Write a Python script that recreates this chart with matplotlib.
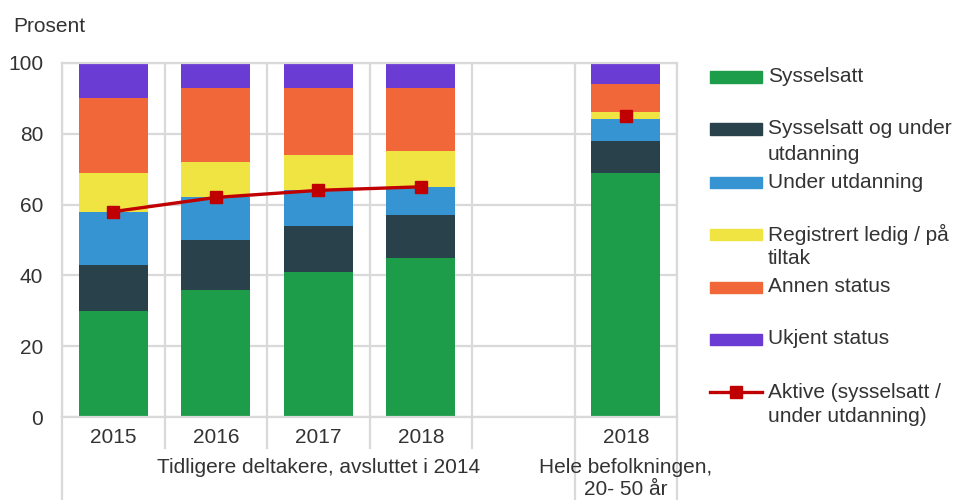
import matplotlib
matplotlib.use('Agg')
import matplotlib.pyplot as plt
import matplotlib.transforms as mtransforms
from matplotlib.patches import Rectangle
from matplotlib.lines import Line2D
import numpy as np

plt.rcParams['font.family'] = ['Liberation Sans', 'DejaVu Sans']

# ---- data ----
categories = ['2015', '2016', '2017', '2018', '', '2018']
sysselsatt = [30, 36, 41, 45, np.nan, 69]
sysselsatt_utd = [13, 14, 13, 12, np.nan, 9]
under_utd = [15, 12, 10, 8, np.nan, 6]
reg_ledig = [11, 10, 10, 10, np.nan, 2]
annen = [21, 21, 19, 18, np.nan, 8]
ukjent = [10, 7, 7, 7, np.nan, 6]
aktive = [58, 62, 64, 65, np.nan, 85]

series_labels = ['Sysselsatt', 'Sysselsatt og under\nutdanning', 'Under utdanning',
                 'Registrert ledig / på\ntiltak', 'Annen status', 'Ukjent status']
line_label = 'Aktive (sysselsatt /\nunder utdanning)'
group1_label = 'Tidligere deltakere, avsluttet i 2014'
group2_label = ['Hele befolkningen,', '20- 50 år']
yticks = [0, 20, 40, 60, 80, 100]

colors = ['#1D9C4A', '#29414A', '#3594D1', '#F0E442', '#F26739', '#6A3CD4']
red = '#C00000'
grid_c = '#D9D9D9'
text_c = '#333333'
FS = 15

W, H = 957, 500
fig = plt.figure(figsize=(W / 100, H / 100), dpi=100)
x0, x1, y0, y1 = 62, 677, 417.3, 62.7
ax = fig.add_axes([x0 / W, 1 - y0 / H, (x1 - x0) / W, (y0 - y1) / H])

x = np.arange(len(categories))
bottom = np.zeros(len(categories))
for vals, col in zip([sysselsatt, sysselsatt_utd, under_utd, reg_ledig, annen, ukjent], colors):
    v = np.array(vals, dtype=float)
    ax.bar(x, v, bottom=bottom, width=0.67, color=col, zorder=2, linewidth=0)
    bottom = bottom + v

ax.plot(x, aktive, color=red, lw=2.4, marker='s', markersize=8, zorder=4)

ax.set_xlim(-0.5, len(categories) - 0.5)
ax.set_ylim(0, 100)
ax.set_yticks(yticks)
ax.set_xticks(x)
ax.set_xticklabels(categories)
ax.set_xticks(np.arange(-0.5, len(categories), 1.0), minor=True)
ax.tick_params(axis='both', which='major', length=0, labelsize=FS, colors=text_c)
ax.tick_params(axis='y', pad=13.5)
ax.tick_params(axis='x', pad=8)
ax.tick_params(axis='x', which='minor', length=0)
ax.grid(True, axis='y', color=grid_c, lw=1.6, zorder=0)
ax.grid(True, axis='x', which='minor', color=grid_c, lw=1.6, zorder=0)
ax.grid(False, axis='x', which='major')
for s in ax.spines.values():
    s.set_color(grid_c)
    s.set_linewidth(1.6)
ax.set_axisbelow(True)

# category separators below axis
trans = mtransforms.blended_transform_factory(ax.transData, ax.transAxes)
short = -(448 - y0) / (y0 - y1)
long_ = -(500 - y0) / (y0 - y1)
for b in np.arange(-0.5, len(categories), 1.0):
    yb = long_ if b in (-0.5, 4.5, 5.5) else short
    ax.add_line(Line2D([b, b], [0, yb], transform=trans, color=grid_c, lw=1.6, clip_on=False))

# group labels
gy1 = -(473 - y0) / (y0 - y1)
gy2 = -(495 - y0) / (y0 - y1)
ax.text(2.0, gy1, group1_label, transform=trans, ha='center', va='baseline', fontsize=FS, color=text_c)
ax.text(5.0, gy1, group2_label[0], transform=trans, ha='center', va='baseline', fontsize=FS, color=text_c)
ax.text(5.0, gy2, group2_label[1], transform=trans, ha='center', va='baseline', fontsize=FS, color=text_c)

fig.text(13 / W, 1 - 26 / H, 'Prosent', ha='left', va='center', fontsize=FS, color=text_c)

# legend (manual, Excel-like alignment)
ly = [77, 129, 182, 234, 287, 339, 392]
px0, px1, ph = 710, 762, 11
tx = 768
for i, (lab, col) in enumerate(zip(series_labels, colors)):
    yc = ly[i]
    fig.patches.append(Rectangle((px0 / W, 1 - (yc + ph / 2) / H), (px1 - px0) / W, ph / H,
                                 transform=fig.transFigure, color=col))
    for j, line in enumerate(lab.split('\n')):
        fig.text(tx / W, 1 - (yc + j * 25) / H, line, ha='left', va='center', fontsize=FS, color=text_c)
yc = ly[6]
fig.lines.append(Line2D([px0 / W, px1 / W], [1 - yc / H, 1 - yc / H], transform=fig.transFigure,
                        color=red, lw=2.4))
fig.lines.append(Line2D([(px0 + px1) / 2 / W], [1 - yc / H], transform=fig.transFigure,
                        color=red, marker='s', markersize=8, lw=0))
for j, line in enumerate(line_label.split('\n')):
    fig.text(tx / W, 1 - (yc + j * 25) / H, line, ha='left', va='center', fontsize=FS, color=text_c)

fig.savefig('out.png', dpi=100)
